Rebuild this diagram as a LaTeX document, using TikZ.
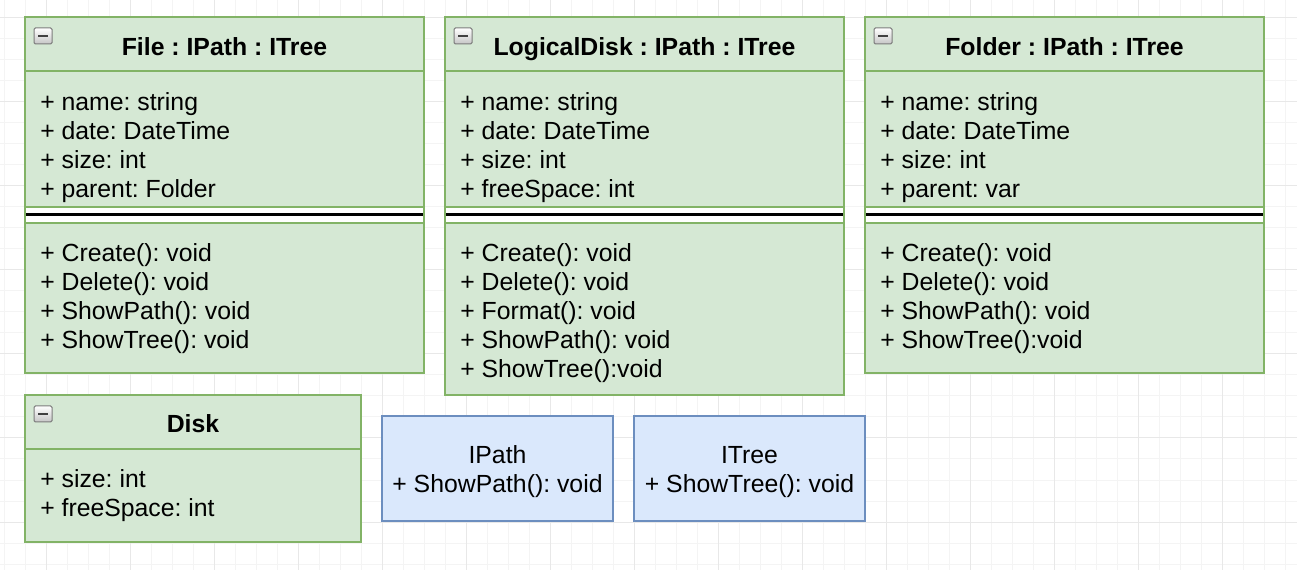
\documentclass[tikz,border=0pt]{standalone}
\usepackage{fontspec}
\setmainfont{Liberation Sans}
\frenchspacing
\definecolor{classfill}{HTML}{D5E8D4}
\definecolor{classline}{HTML}{82B366}
\definecolor{ifacefill}{HTML}{DAE8FC}
\definecolor{ifaceline}{HTML}{6C8EBF}
\definecolor{gridmajor}{HTML}{E8E8E8}
\definecolor{gridminor}{HTML}{F4F4F4}
\definecolor{iconline}{HTML}{7C7C7C}

\begin{document}
\begin{tikzpicture}[x=0.75pt, y=-0.75pt,
    classbox/.style={fill=classfill, draw=classline, line width=1.5pt},
    sepline/.style={draw=classline, line width=1.5pt},
    divider/.style={draw=black, line width=1.6pt},
    ifacebox/.style={fill=ifacefill, draw=ifaceline, line width=1.5pt},
    classname/.style={anchor=base, inner sep=0pt, font=\fontsize{18.6}{22}\selectfont\bfseries},
    member/.style={anchor=base west, inner sep=0pt, font=\fontsize{18.6}{22}\selectfont},
    iface/.style={anchor=base, inner sep=0pt, font=\fontsize{18.6}{22}\selectfont}]

  \useasboundingbox (0,0) rectangle (1297,570);

  % background grid
  \foreach \x in {4,25,...,1297} \draw[gridminor, line width=0.75pt] (\x,0) -- (\x,570);
  \foreach \y in {18,39,...,570} \draw[gridminor, line width=0.75pt] (0,\y) -- (1297,\y);
  \foreach \x in {46,130,...,1297} \draw[gridmajor, line width=0.75pt] (\x,0) -- (\x,570);
  \foreach \y in {18,102,...,570} \draw[gridmajor, line width=0.75pt] (0,\y) -- (1297,\y);

  % the three big classes
  \foreach \x/\b in {25/373, 445/395, 865/373} {
    \fill[classfill] (\x,17) rectangle ({\x+399},\b);
    \fill[white] (\x,207) rectangle ({\x+399},223);
    \draw[sepline] (\x,71) -- ({\x+399},71);
    \draw[sepline] (\x,207) -- ({\x+399},207);
    \draw[sepline] (\x,223) -- ({\x+399},223);
    \draw[divider] (\x,214.5) -- ({\x+399},214.5);
    \draw[classbox, fill=none] (\x,17) rectangle ({\x+399},\b);
  }

  % Disk
  \draw[classbox] (25,395) rectangle (361,542);
  \draw[sepline] (25,449) -- (361,449);

  % interfaces
  \draw[ifacebox] (382,416) rectangle (613,521);
  \draw[ifacebox] (634,416) rectangle (865,521);

  % collapse icons
  \foreach \x/\y in {34/28, 454/28, 874/28, 34/406} {
    \shade[top color=white, bottom color=gray!45, draw=iconline, line width=0.75pt,
      rounded corners=1pt] (\x,\y) rectangle ({\x+18},{\y+16});
    \draw[black!75, line width=1.6pt] ({\x+4},{\y+8}) -- ({\x+14},{\y+8});
  }

  % class names
  \node[classname] (filename) at (224.5,56) {File : IPath : ITree};
  \node[classname] (ldiskname) at (644.5,56) {LogicalDisk : IPath : ITree};
  \node[classname] (foldername) at (1064.5,56) {Folder : IPath : ITree};
  \node[classname] (diskname) at (193,433) {Disk};

  % File
  \foreach \t [count=\i from 0] in {+ name: string, + date: DateTime, + size: int, + parent: Folder}
    \node[member] (fileattr\i) at (40,{111+29*\i}) {\t};
  \foreach \t [count=\i from 0] in {+ Create(): void, + Delete(): void, + ShowPath(): void, + ShowTree(): void}
    \node[member] (fileop\i) at (40,{262+29*\i}) {\t};

  % LogicalDisk
  \foreach \t [count=\i from 0] in {+ name: string, + date: DateTime, + size: int, + freeSpace: int}
    \node[member] (ldiskattr\i) at (460,{111+29*\i}) {\t};
  \foreach \t [count=\i from 0] in {+ Create(): void, + Delete(): void, + Format(): void, + ShowPath(): void, + ShowTree():void}
    \node[member] (ldiskop\i) at (460,{262+29*\i}) {\t};

  % Folder
  \foreach \t [count=\i from 0] in {+ name: string, + date: DateTime, + size: int, + parent: var}
    \node[member] (folderattr\i) at (880,{111+29*\i}) {\t};
  \foreach \t [count=\i from 0] in {+ Create(): void, + Delete(): void, + ShowPath(): void, + ShowTree():void}
    \node[member] (folderop\i) at (880,{262+29*\i}) {\t};

  % Disk
  \node[member] (diskattr0) at (40,487.5) {+ size: int};
  \node[member] (diskattr1) at (40,516.5) {+ freeSpace: int};

  % IPath, ITree
  \node[iface] (ipathname) at (497.5,464) {IPath};
  \node[iface] (ipathop) at (497.5,493) {+ ShowPath(): void};
  \node[iface] (itreename) at (749.5,464) {ITree};
  \node[iface] (itreeop) at (749.5,493) {+ ShowTree(): void};
\end{tikzpicture}
\end{document}
